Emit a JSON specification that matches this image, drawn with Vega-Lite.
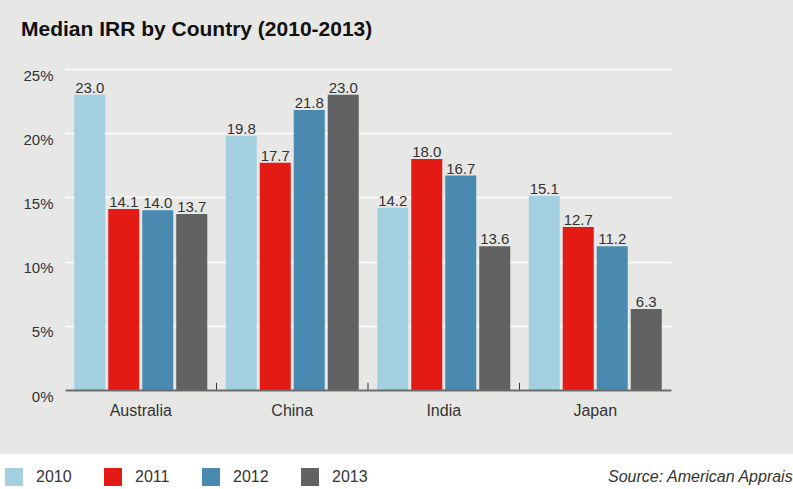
{
  "$schema": "https://vega.github.io/schema/vega-lite/v6.json",
  "autosize": "none",
  "width": 606,
  "height": 321,
  "padding": {"left": 65, "top": 69, "right": 122, "bottom": 99},
  "background": "#e7e7e6",
  "title": {
    "text": "Median IRR by Country (2010-2013)",
    "anchor": "start",
    "frame": "group",
    "dx": -44,
    "baseline": "alphabetic",
    "offset": 11,
    "font": "Liberation Sans",
    "fontSize": 21,
    "fontWeight": "bold",
    "color": "#111111"
  },
  "config": {
    "view": {"stroke": null},
    "font": "Liberation Sans"
  },
  "data": {
    "values": [
      {"country": "Australia", "year": "2010", "value": 23.0, "label": "23.0"},
      {"country": "Australia", "year": "2011", "value": 14.1, "label": "14.1"},
      {"country": "Australia", "year": "2012", "value": 14.0, "label": "14.0"},
      {"country": "Australia", "year": "2013", "value": 13.7, "label": "13.7"},
      {"country": "China", "year": "2010", "value": 19.8, "label": "19.8"},
      {"country": "China", "year": "2011", "value": 17.7, "label": "17.7"},
      {"country": "China", "year": "2012", "value": 21.8, "label": "21.8"},
      {"country": "China", "year": "2013", "value": 23.0, "label": "23.0"},
      {"country": "India", "year": "2010", "value": 14.2, "label": "14.2"},
      {"country": "India", "year": "2011", "value": 18.0, "label": "18.0"},
      {"country": "India", "year": "2012", "value": 16.7, "label": "16.7"},
      {"country": "India", "year": "2013", "value": 11.2, "label": "13.6"},
      {"country": "Japan", "year": "2010", "value": 15.1, "label": "15.1"},
      {"country": "Japan", "year": "2011", "value": 12.7, "label": "12.7"},
      {"country": "Japan", "year": "2012", "value": 11.2, "label": "11.2"},
      {"country": "Japan", "year": "2013", "value": 6.3, "label": "6.3"}
    ]
  },
  "encoding": {
    "x": {
      "field": "country",
      "type": "nominal",
      "sort": null,
      "scale": {"paddingInner": 0.122, "paddingOuter": 0.061},
      "axis": {
        "title": null,
        "labelAngle": 0,
        "labelFontSize": 16,
        "labelColor": "#333333",
        "labelPadding": 12,
        "ticks": false,
        "domainColor": "#6a6a6a",
        "domainWidth": 2,
        "zindex": 1
      }
    },
    "y": {
      "field": "value",
      "type": "quantitative",
      "scale": {"domain": [0, 25], "nice": false},
      "axis": {
        "title": null,
        "values": [0, 5, 10, 15, 20, 25],
        "labelExpr": "datum.value + '%'",
        "labelFontSize": 15,
        "labelColor": "#333333",
        "labelBaseline": "top",
        "labelOffset": -1,
        "labelPadding": 12,
        "ticks": false,
        "domain": false,
        "grid": true,
        "gridColor": "#ffffff",
        "gridWidth": 1.5,
        "gridOpacity": 1
      }
    }
  },
  "layer": [
    {
      "mark": {"type": "bar"},
      "encoding": {
        "xOffset": {
          "field": "year",
          "type": "nominal",
          "scale": {"paddingInner": 0.088, "paddingOuter": 0}
        },
        "color": {
          "field": "year",
          "type": "nominal",
          "scale": {
            "domain": ["2010", "2011", "2012", "2013"],
            "range": ["#a3d0e1", "#e31b14", "#4b8ab0", "#626262"]
          },
          "legend": {
            "title": "Source: American Appraisal",
            "orient": "none",
            "direction": "horizontal",
            "legendX": -74,
            "legendY": 385,
            "padding": 14,
            "fillColor": "#ffffff",
            "strokeColor": null,
            "symbolType": "square",
            "symbolSize": 324,
            "symbolStrokeWidth": 0,
            "symbolOpacity": 1,
            "labelFontSize": 16,
            "labelColor": "#333333",
            "labelOffset": 13,
            "columnPadding": 32,
            "titleOrient": "right",
            "titlePadding": 240,
            "titleFontSize": 16,
            "titleFontWeight": "normal",
            "titleFontStyle": "italic",
            "titleColor": "#333333",
            "titleBaseline": "middle",
            "titleLimit": 400
          }
        }
      }
    },
    {
      "mark": {"type": "text", "baseline": "alphabetic", "dy": -2, "fontSize": 15, "color": "#333333"},
      "encoding": {
        "xOffset": {"field": "year", "type": "nominal"},
        "text": {"field": "label"}
      }
    },
    {
      "transform": [{"filter": "datum.year == '2010' && datum.country != 'Australia'"}],
      "mark": {"type": "rule", "color": "#333333", "strokeWidth": 1},
      "encoding": {
        "x": {"field": "country", "type": "nominal", "sort": null, "bandPosition": -0.0695},
        "y": {"datum": 0},
        "y2": {"datum": 0.56}
      }
    }
  ]
}
